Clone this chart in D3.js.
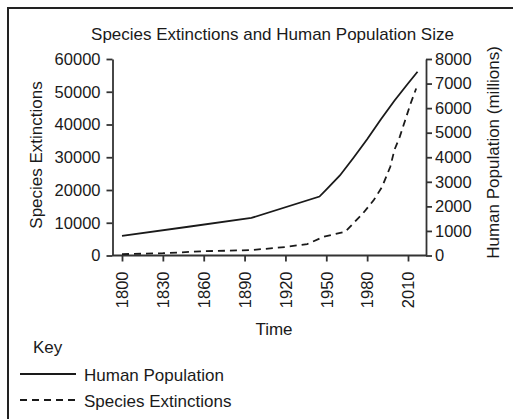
<!DOCTYPE html>
<html lang="en">
	<head>
		<meta charset="utf-8">
		<title>Species Extinctions and Human Population Size</title>
		<script src="https://d3js.org/d3.v7.min.js"></script>
		<style type="text/css">
			body { margin:0; background:#fff; }
			svg text { font-family:"Liberation Sans", Arial, sans-serif; fill:#1a1a1a; }
			.axis path, .axis line { stroke:#333; stroke-width:1.8; }
			.axis text { font-size:16.5px; }
		</style>
	</head>
	<body>
		<div id="chart"></div>

		<script type="text/javascript">

			// values
			var popYears  = [1800, 1850, 1895, 1945, 1950, 1960, 1970, 1980, 1990, 2000, 2010, 2017];
			var popValues = [800, 1180, 1530, 2400, 2680, 3260, 3980, 4730, 5540, 6300, 7000, 7480];   // millions

			var extYears  = [1800, 1830, 1860, 1895, 1920, 1936, 1948, 1964, 1977, 1985, 1991, 1997, 2000, 2004, 2008, 2012, 2016];
			var extValues = [400, 700, 1300, 1650, 2600, 3500, 5700, 7300, 12900, 17000, 21000, 27100, 32200, 36300, 41400, 46500, 51000];

			var yearTicks = [1800, 1830, 1860, 1890, 1920, 1950, 1980, 2010];
			var extTicks  = [0, 10000, 20000, 30000, 40000, 50000, 60000];
			var popTicks  = [0, 1000, 2000, 3000, 4000, 5000, 6000, 7000, 8000];

			var ww = 513, hh = 419;
			var plotLeft = 112.5, plotRight = 426, plotTop = 59, plotBottom = 255.5;

			var svg = d3.select('#chart')
				.append('svg')
				.attr('width', ww)
				.attr('height', hh);

			// frame (runs off the right and bottom edge)
			svg.append('path')
				.attr('d', 'M540,8H8V440')
				.attr('fill', 'none')
				.attr('stroke', '#222')
				.attr('stroke-width', 2);

			var x = d3.scaleLinear()
				.domain([1800, 2010])
				.range([122, 408]);

			var yExt = d3.scaleLinear()
				.domain([0, 60000])
				.range([plotBottom, plotTop]);

			var yPop = d3.scaleLinear()
				.domain([0, 8000])
				.range([plotBottom, plotTop]);

			// x axis
			var xAxis = svg.append('g')
				.attr('class', 'axis')
				.attr('transform', 'translate(0,' + plotBottom + ')')
				.call(d3.axisBottom(x).tickValues(yearTicks).tickFormat(d3.format('d')).tickSize(6).tickSizeOuter(0));
			xAxis.select('.domain').attr('d', 'M' + plotLeft + ',0H' + plotRight);
			xAxis.selectAll('.tick text')
				.attr('transform', 'rotate(-90)')
				.attr('text-anchor', 'end')
				.attr('x', -16)
				.attr('y', 0)
				.attr('dy', '0.35em');

			// left axis
			svg.append('g')
				.attr('class', 'axis')
				.attr('transform', 'translate(' + plotLeft + ',0)')
				.call(d3.axisLeft(yExt).tickValues(extTicks).tickFormat(d3.format('d')).tickSize(6).tickPadding(6).tickSizeOuter(0));

			// right axis
			svg.append('g')
				.attr('class', 'axis')
				.attr('transform', 'translate(' + plotRight + ',0)')
				.call(d3.axisRight(yPop).tickValues(popTicks).tickFormat(d3.format('d')).tickSize(6).tickPadding(3).tickSizeOuter(0));

			var popLine = d3.line()
				.x(function(d, i) { return x(popYears[i]); })
				.y(function(d) { return yPop(d); });

			var extLine = d3.line()
				.x(function(d, i) { return x(extYears[i]); })
				.y(function(d) { return yExt(d); });

			svg.append('path')
				.attr('d', popLine(popValues))
				.attr('fill', 'none')
				.attr('stroke', '#1a1a1a')
				.attr('stroke-width', 1.8);

			svg.append('path')
				.attr('d', extLine(extValues))
				.attr('fill', 'none')
				.attr('stroke', '#1a1a1a')
				.attr('stroke-width', 1.8)
				.attr('stroke-dasharray', '7,5');

			// titles
			svg.append('text')
				.attr('x', 272.5).attr('y', 40)
				.attr('text-anchor', 'middle')
				.style('font-size', '17px')
				.text('Species Extinctions and Human Population Size');

			svg.append('text')
				.attr('transform', 'translate(42,155) rotate(-90)')
				.attr('text-anchor', 'middle')
				.style('font-size', '17px')
				.text('Species Extinctions');

			svg.append('text')
				.attr('transform', 'translate(499,152.5) rotate(-90)')
				.attr('text-anchor', 'middle')
				.style('font-size', '17px')
				.text('Human Population (millions)');

			svg.append('text')
				.attr('x', 274).attr('y', 335)
				.attr('text-anchor', 'middle')
				.style('font-size', '17px')
				.text('Time');

			// key
			svg.append('text')
				.attr('x', 33).attr('y', 353)
				.style('font-size', '17px')
				.text('Key');

			var key = [
				{ label: 'Human Population', dash: null, y: 374 },
				{ label: 'Species Extinctions', dash: '7,5', y: 400 }
			];

			var k = svg.selectAll('g.key')
				.data(key)
				.enter().append('g')
				.attr('class', 'key');

			k.append('line')
				.attr('x1', 20).attr('x2', 76)
				.attr('y1', function(d) { return d.y; })
				.attr('y2', function(d) { return d.y; })
				.attr('stroke', '#1a1a1a')
				.attr('stroke-width', 1.8)
				.attr('stroke-dasharray', function(d) { return d.dash; });

			k.append('text')
				.attr('x', 84)
				.attr('y', function(d) { return d.y + 6.5; })
				.style('font-size', '17px')
				.text(function(d) { return d.label; });

		</script>
	</body>
</html>
